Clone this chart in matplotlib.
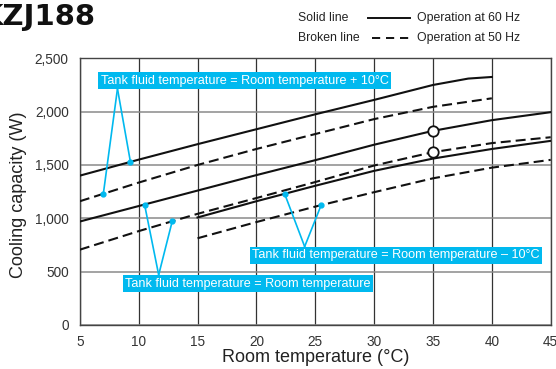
import matplotlib
matplotlib.use('Agg')
import matplotlib.pyplot as plt
from matplotlib.lines import Line2D
import numpy as np

plt.rcParams['font.family'] = ['Liberation Sans', 'DejaVu Sans']

# room temperature (°C) / cooling capacity (W)
t_plus10_60 = [5, 10, 15, 20, 25, 30, 35, 38, 40]
plus10_60 = [1400, 1550, 1695, 1835, 1975, 2110, 2250, 2310, 2325]
t_plus10_50 = [5, 10, 15, 20, 25, 30, 35, 40]
plus10_50 = [1160, 1335, 1500, 1650, 1790, 1930, 2045, 2125]
t_room = [5, 10, 15, 20, 25, 30, 35, 40, 45]
room_60 = [970, 1115, 1260, 1405, 1545, 1690, 1820, 1920, 1995]
room_50 = [706, 880, 1042, 1190, 1340, 1495, 1620, 1705, 1760]
t_minus10 = [15, 20, 25, 30, 35, 40, 45]
minus10_60 = [1008, 1160, 1305, 1445, 1560, 1650, 1726]
minus10_50 = [813, 965, 1110, 1245, 1375, 1475, 1548]

rated_t = [35, 35]
rated_cap = [1820, 1620]

xticks = [5, 10, 15, 20, 25, 30, 35, 40, 45]
yticks = [0, 500, 1000, 1500, 2000, 2500]
ylabels = ['0', '500', '1,000', '1,500', '2,000', '2,500']

W, H = 556, 369
fig = plt.figure(figsize=(W / 100, H / 100), dpi=100)
ax = fig.add_axes([79.8 / W, 1 - 325 / H, (550.7 - 79.8) / W, (325 - 58.3) / H])

ax.set_xlim(5, 45)
ax.set_ylim(0, 2500)
ax.set_xticks(xticks)
ax.set_yticks(yticks)
ax.set_yticklabels(ylabels)
ax.tick_params(length=0, labelsize=9.8, labelcolor='#333333')
ax.tick_params(axis='x', pad=7)
ax.tick_params(axis='y', pad=8)
for x in xticks:
    ax.axvline(x, color='#333333', lw=0.9, zorder=1)
for y in yticks:
    ax.axhline(y, color='#8a8a8a', lw=1.1, zorder=1)
for s in ax.spines.values():
    s.set_color('#444444')
    s.set_linewidth(1.0)

dash = (4.8, 2.4)
ax.plot(t_plus10_60, plus10_60, color='#111111', lw=1.5, zorder=3)
ax.plot(t_plus10_50, plus10_50, color='#111111', lw=1.5, dashes=dash, zorder=3)
ax.plot(t_room, room_60, color='#111111', lw=1.5, zorder=3)
ax.plot(t_room, room_50, color='#111111', lw=1.5, dashes=dash, zorder=3)
ax.plot(t_minus10, minus10_60, color='#111111', lw=1.5, zorder=3)
ax.plot(t_minus10, minus10_50, color='#111111', lw=1.5, dashes=dash, zorder=3)
ax.plot(rated_t, rated_cap, 'o', ms=7.5, mfc='white', mec='#111111', mew=1.3, zorder=5)

cyan = '#00b9ef'
callouts = [
    ('Tank fluid temperature = Room temperature + 10°C', (19.0, 2289), (8.2, 2215),
     [(9.3, t_plus10_60, plus10_60), (7.0, t_plus10_50, plus10_50)]),
    ('Tank fluid temperature = Room temperature', (19.3, 389), (11.7, 470),
     [(10.5, t_room, room_60), (12.85, t_room, room_50)]),
    ('Tank fluid temperature = Room temperature – 10°C', (31.85, 652), (24.1, 735),
     [(22.4, t_minus10, minus10_60), (25.5, t_minus10, minus10_50)]),
]
for label, (bx, by), (ax_, ay), dots in callouts:
    for dx, tx, cy in dots:
        dy = np.interp(dx, tx, cy)
        ax.plot([ax_, dx], [ay, dy], color=cyan, lw=1.2, zorder=4)
        ax.plot(dx, dy, 'o', ms=3.5, color=cyan, zorder=4)
    ax.text(bx, by, label, ha='center', va='center', fontsize=9.1, color='white', zorder=6,
            bbox=dict(boxstyle='square,pad=0.2', fc=cyan, ec='none'))

ax.set_xlabel('Room temperature (°C)', fontsize=13, color='#222222')
ax.xaxis.set_label_coords(0.5, -0.09)
ax.set_ylabel('Cooling capacity (W)', fontsize=13, color='#222222')
ax.yaxis.set_label_coords(-0.113, 0.49)

fig.text(-20 / W, 1 - 17 / H, 'KZJ188', fontsize=21, fontweight='bold', family='DejaVu Sans',
         ha='left', va='center', color='#111111')

fig.text(298 / W, 1 - 18 / H, 'Solid line', fontsize=8.8, ha='left', va='center', color='#222222')
fig.text(298 / W, 1 - 38 / H, 'Broken line', fontsize=8.8, ha='left', va='center', color='#222222')
fig.text(417 / W, 1 - 18 / H, 'Operation at 60 Hz', fontsize=8.8, ha='left', va='center', color='#222222')
fig.text(417 / W, 1 - 38 / H, 'Operation at 50 Hz', fontsize=8.8, ha='left', va='center', color='#222222')
fig.add_artist(Line2D([368 / W, 410 / W], [1 - 18 / H, 1 - 18 / H], transform=fig.transFigure,
                      color='#111111', lw=1.4))
fig.add_artist(Line2D([372 / W, 410 / W], [1 - 38 / H, 1 - 38 / H], transform=fig.transFigure,
                      color='#111111', lw=1.4, dashes=(4.2, 3.0)))

fig.savefig('out.png', dpi=100)
